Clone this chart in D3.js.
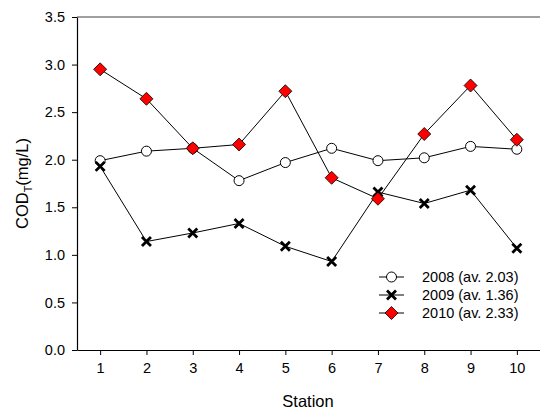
<!DOCTYPE html>
<html>
<head>
<meta charset="utf-8">
<script src="https://cdn.jsdelivr.net/npm/d3@7"></script>
<style>
  body { margin: 0; background: #fff; }
  svg { font-family: Arial, "Liberation Sans", sans-serif; }
</style>
</head>
<body>
<div id="chart"></div>
<script>
// data
const stations = [1, 2, 3, 4, 5, 6, 7, 8, 9, 10];
const cod2008 = [1.99, 2.09, 2.12, 1.78, 1.97, 2.12, 1.99, 2.02, 2.14, 2.11];
const cod2009 = [1.93, 1.14, 1.23, 1.33, 1.09, 0.93, 1.66, 1.54, 1.68, 1.07];
const cod2010 = [2.95, 2.64, 2.12, 2.16, 2.72, 1.81, 1.59, 2.27, 2.78, 2.21];
const seriesNames = ['2008 (av. 2.03)', '2009 (av. 1.36)', '2010 (av. 2.33)'];
const yTicks = [0, 0.5, 1, 1.5, 2, 2.5, 3, 3.5];

const width = 540, height = 412;
const margin = { top: 17, right: 0, bottom: 62, left: 77 };

const svg = d3.select('#chart')
  .append('svg')
  .attr('width', width)
  .attr('height', height);

const x = d3.scaleLinear()
  .domain([0.5, 10.5])
  .range([margin.left, width - margin.right]);

const y = d3.scaleLinear()
  .domain([0, 3.5])
  .range([height - margin.bottom, margin.top]);

// top frame line (grey)
svg.append('line')
  .attr('x1', x(0.5)).attr('x2', x(10.5))
  .attr('y1', y(3.5)).attr('y2', y(3.5))
  .attr('stroke', '#808080')
  .attr('stroke-width', 1.5);

// axes
const xAxis = svg.append('g')
  .attr('transform', `translate(0,${y(0)})`)
  .call(d3.axisBottom(x).tickValues(stations).tickSize(5).tickPadding(8).tickSizeOuter(0));

const yAxis = svg.append('g')
  .attr('transform', `translate(${x(0.5)},0)`)
  .call(d3.axisLeft(y).tickValues(yTicks).tickFormat(d3.format('.1f')).tickSize(5).tickPadding(7).tickSizeOuter(0));

[xAxis, yAxis].forEach(g => {
  g.selectAll('text').attr('font-size', 14.5).attr('fill', '#000').attr('font-family', 'Arial, "Liberation Sans", sans-serif');
  g.selectAll('line').attr('stroke', '#000');
  g.select('.domain').attr('stroke', '#000').attr('stroke-width', 1.2);
});

// axis titles
svg.append('text')
  .attr('x', 308)
  .attr('y', 407)
  .attr('text-anchor', 'middle')
  .attr('font-size', 16.5)
  .text('Station');

const yt = svg.append('text')
  .attr('transform', `translate(28,${(y(0) + y(3.5)) / 2}) rotate(-90)`)
  .attr('text-anchor', 'middle')
  .attr('font-size', 16.5);
yt.append('tspan').text('COD');
yt.append('tspan').attr('font-size', 11).attr('dy', 4).text('T');
yt.append('tspan').attr('dy', -4).text('(mg/L)');

const line = d3.line()
  .x((d, i) => x(stations[i]))
  .y(d => y(d));

function drawMarker(g, kind) {
  if (kind === 'circle') {
    g.append('circle').attr('r', 5).attr('fill', '#fff').attr('stroke', '#000').attr('stroke-width', 1);
  } else if (kind === 'cross') {
    g.append('path').attr('d', 'M-4.5,-4.5L4.5,4.5M-4.5,4.5L4.5,-4.5')
      .attr('stroke', '#000').attr('stroke-width', 2.8).attr('fill', 'none');
  } else {
    g.append('path').attr('d', 'M0,-6.5L6.5,0L0,6.5L-6.5,0Z')
      .attr('fill', '#ff0000').attr('stroke', '#000').attr('stroke-width', 0.8);
  }
}

const series = [
  { values: cod2008, kind: 'circle' },
  { values: cod2009, kind: 'cross' },
  { values: cod2010, kind: 'diamond' }
];

series.forEach(s => {
  svg.append('path')
    .datum(s.values)
    .attr('d', line)
    .attr('fill', 'none')
    .attr('stroke', '#000')
    .attr('stroke-width', 1);

  svg.selectAll(null)
    .data(s.values)
    .enter()
    .append('g')
    .attr('transform', (d, i) => `translate(${x(stations[i])},${y(d)})`)
    .each(function () { drawMarker(d3.select(this), s.kind); });
});

// legend
const legend = svg.append('g').attr('transform', 'translate(379,277)');
series.forEach((s, i) => {
  const row = legend.append('g').attr('transform', `translate(0,${i * 18})`);
  row.append('line').attr('x1', 0).attr('x2', 25).attr('stroke', '#000').attr('stroke-width', 1);
  const m = row.append('g').attr('transform', 'translate(12.5,0)');
  drawMarker(m, s.kind);
  row.append('text')
    .attr('x', 43)
    .attr('dy', '0.36em')
    .attr('font-size', 14.5)
    .text(seriesNames[i]);
});
</script>
</body>
</html>
